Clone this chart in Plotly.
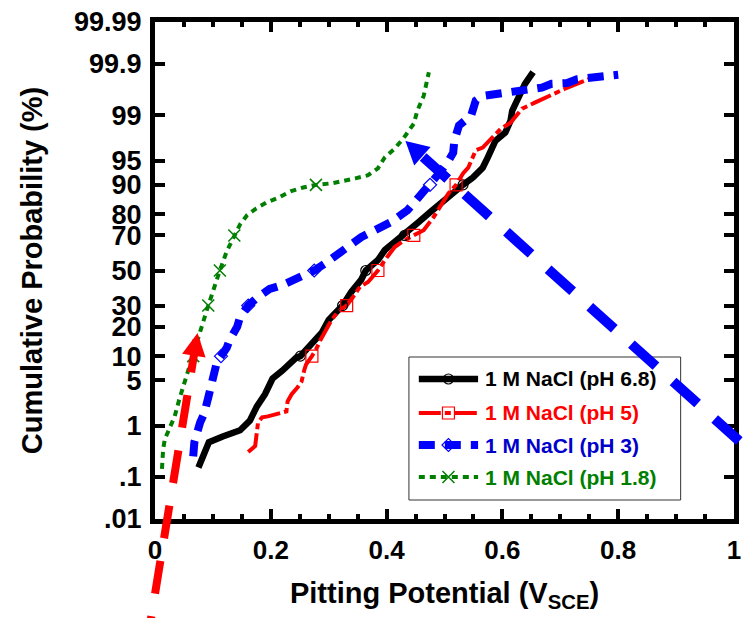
import math
from statistics import NormalDist
import plotly.graph_objects as go

# ---------------- data ----------------
# Pitting potential (V_SCE) and cumulative probability (%)
ph68_x = [0.075, 0.093, 0.117, 0.147, 0.164, 0.176, 0.190, 0.203, 0.220, 0.244, 0.251, 0.269, 0.288, 0.300, 0.324,
          0.339, 0.356, 0.364, 0.385, 0.397, 0.414, 0.431, 0.453, 0.475, 0.498, 0.520, 0.532, 0.549, 0.566, 0.575,
          0.588, 0.605, 0.614, 0.617, 0.627, 0.639, 0.653]
ph68_p = [0.16, 0.51, 0.65, 0.84, 1.24, 2.1, 3.2, 5.3, 6.7, 9.6, 10, 13.3, 17.6, 23, 30,
          37.4, 44.4, 50, 56.2, 62, 66.5, 70, 76, 80.8, 85.3, 88.5, 90, 91.8, 93.8, 95.5,
          97.4, 98.05, 98.75, 99.16, 99.51, 99.74, 99.85]

ph5_x = [0.161, 0.173, 0.178, 0.185, 0.195, 0.219, 0.227, 0.229, 0.236, 0.246, 0.253, 0.258, 0.261, 0.271, 0.278,
         0.286, 0.295, 0.305, 0.317, 0.331, 0.342, 0.354, 0.368, 0.385, 0.397, 0.414, 0.431, 0.447, 0.464, 0.481,
         0.492, 0.500, 0.507, 0.520, 0.532, 0.541, 0.549, 0.554, 0.566, 0.583, 0.597, 0.614, 0.625, 0.634, 0.656,
         0.678, 0.707, 0.736, 0.753]
ph5_p = [0.33, 0.43, 1.15, 1.4, 1.45, 1.68, 1.75, 2.5, 3.2, 4.0, 4.8, 6.9, 8.0, 10, 11.8,
         15, 18.8, 23, 27.3, 30, 34.6, 40.3, 43.2, 50, 56.2, 63.7, 67.5, 70, 72.7, 78.7,
         82.8, 85.3, 87.6, 90, 92.7, 93.8, 95.5, 96.4, 96.7, 97.7, 98.3, 98.65, 98.98, 99.23, 99.4,
         99.54, 99.67, 99.76, 99.80]

ph3_x = [0.066, 0.068, 0.078, 0.085, 0.092, 0.097, 0.102, 0.107, 0.114, 0.124, 0.129, 0.142, 0.147, 0.161, 0.176,
         0.198, 0.220, 0.244, 0.254, 0.275, 0.295, 0.317, 0.334, 0.356, 0.380, 0.407, 0.436, 0.453, 0.464, 0.475,
         0.492, 0.507, 0.515, 0.517, 0.525, 0.546, 0.554, 0.566, 0.588, 0.610, 0.642, 0.668, 0.685, 0.712, 0.729,
         0.754, 0.775, 0.800]
ph3_p = [0.27, 0.51, 1.15, 1.62, 2.87, 4.0, 6.5, 8.6, 10, 12.4, 15, 20, 24.4, 30, 34.1,
         39.1, 41.4, 44.9, 46.7, 50, 54.5, 59.7, 63.7, 69.1, 72.7, 76.5, 81.6, 85.7, 88.5, 90,
         92.9, 95.0, 96.1, 97.4, 98.5, 98.98, 99.45, 99.55, 99.59, 99.61, 99.67, 99.69, 99.74, 99.75, 99.79,
         99.80, 99.82, 99.83]

ph18_x = [0.012, 0.014, 0.017, 0.024, 0.034, 0.042, 0.049, 0.066, 0.078, 0.092, 0.102, 0.112, 0.124, 0.137, 0.147,
          0.159, 0.175, 0.193, 0.214, 0.234, 0.256, 0.278, 0.305, 0.346, 0.368, 0.385, 0.397, 0.414, 0.429, 0.447,
          0.453, 0.464, 0.473]
ph18_p = [0.15, 0.37, 0.58, 0.87, 1.45, 2.7, 4.1, 10, 18, 30, 40, 50, 61.4, 70, 75.5,
          79.6, 82.4, 84.6, 86.3, 88.2, 89.3, 90, 90.4, 91.6, 92.3, 93.7, 95.5, 96.6, 97.6, 98.6,
          99.16, 99.55, 99.85]

# probability levels that carry a symbol
mark_68 = [10, 30, 50, 70, 90]
mark_5 = [10, 30, 50, 70, 90]
mark_3 = [10, 30, 50, 90]
mark_18 = [10, 30, 50, 70, 90]

series_names = ["1 M NaCl (pH 6.8)", "1 M NaCl (pH 5)", "1 M NaCl (pH 3)", "1 M NaCl (pH 1.8)"]

y_tick_p = [99.99, 99.9, 99, 95, 90, 80, 70, 50, 30, 20, 10, 5, 1, 0.1, 0.01]
y_tick_labels = ["99.99", "99.9", "99", "95", "90", "80", "70", "50", "30", "20", "10", "5", "1", ".1", ".01"]

# ---------------- helpers ----------------
ND = NormalDist()


def probit(p):
    return ND.inv_cdf(p / 100.0)


FONT = "Liberation Sans, Arial, Helvetica, sans-serif"
ML, MR, MT, MB = 155, 3, 22, 99
FW, FH = 744, 618
W = FW - ML - MR
H = FH - MT - MB
Z0, Z1 = probit(0.01), probit(99.99)

styles = [
    dict(color="#000000", width=6.5, dash="solid", symbol="circle-open", msize=10, mlw=1.2, text="#000000"),
    dict(color="#FF0000", width=4, dash="22px,4px,6px,4px", symbol="square-open", msize=12, mlw=1.2, text="#FF0000"),
    dict(color="#0000FF", width=8, dash="16px,10px", symbol="diamond-open", msize=10, mlw=1.2, text="#0000CC"),
    dict(color="#007F00", width=4, dash="6px,5px", symbol="x-thin-open", msize=12, mlw=1.5, text="#007F00"),
]
data = [(ph68_x, ph68_p, mark_68), (ph5_x, ph5_p, mark_5), (ph3_x, ph3_p, mark_3), (ph18_x, ph18_p, mark_18)]

fig = go.Figure()
for (xs, ps, marks), st, name in zip(data, styles, series_names):
    fig.add_trace(go.Scatter(x=xs, y=[probit(p) for p in ps], mode="lines", name=name,
                             line=dict(color=st["color"], width=st["width"], dash=st["dash"]),
                             showlegend=False, hoverinfo="skip"))
for (xs, ps, marks), st, name in zip(data, styles, series_names):
    mx = [x for x, p in zip(xs, ps) if p in marks]
    my = [probit(p) for p in ps if p in marks]
    fig.add_trace(go.Scatter(x=mx, y=my, mode="markers", showlegend=False, hoverinfo="skip",
                             marker=dict(symbol=st["symbol"], size=st["msize"], color=st["color"],
                                         line=dict(color=st["color"], width=st["mlw"]))))

# ---------------- custom legend ----------------
leg_box = dict(x0=412, x1=687, y0=357, y1=500)      # pixel box in the figure
leg_rows = [379, 413, 445, 477]                     # pixel row centres
leg_line = (422, 482)
leg_text_x = 487


def px_to_x(px):
    return (px - ML) / W


def py_to_paper(py):
    return (FH - MB - py) / H


def py_to_z(py):
    return Z0 + py_to_paper(py) * (Z1 - Z0)


shapes = [dict(type="rect", xref="paper", yref="paper",
               x0=px_to_x(leg_box["x0"]), x1=px_to_x(leg_box["x1"]),
               y0=py_to_paper(leg_box["y1"]), y1=py_to_paper(leg_box["y0"]),
               line=dict(color="#333333", width=1), fillcolor="rgba(0,0,0,0)", layer="above")]
annotations = []
for row, st, name in zip(leg_rows, styles, series_names):
    z = py_to_z(row)
    fig.add_trace(go.Scatter(x=[px_to_x(leg_line[0]), px_to_x(leg_line[1])], y=[z, z], mode="lines",
                             line=dict(color=st["color"], width=st["width"], dash=st["dash"]),
                             showlegend=False, hoverinfo="skip"))
    fig.add_trace(go.Scatter(x=[px_to_x((leg_line[0] + leg_line[1]) / 2)], y=[z], mode="markers",
                             showlegend=False, hoverinfo="skip",
                             marker=dict(symbol=st["symbol"], size=st["msize"], color=st["color"],
                                         line=dict(color=st["color"], width=st["mlw"]))))
    annotations.append(dict(xref="paper", yref="paper", x=px_to_x(leg_text_x), y=py_to_paper(row),
                            xanchor="left", yanchor="middle", showarrow=False, text=name,
                            font=dict(family=FONT, size=21, color=st["text"], weight="bold")))

# ---------------- arrows (tip / tail in axis units: V, probit) ----------------
arrows = [
    dict(tip=(0.0735, -0.935), tail=(-0.013, -5.53), color="#FF0000", width=8, head_len=23, head_half=12, start=7),
    dict(tip=(0.4325, 1.938), tail=(1.034, -2.746), color="#0000FF", width=10, head_len=23, head_half=12.5, start=24),
]
for a in arrows:
    tx, ty = a["tip"][0] * W, (a["tip"][1] - Z0) / (Z1 - Z0) * H
    sx, sy = a["tail"][0] * W, (a["tail"][1] - Z0) / (Z1 - Z0) * H
    dx, dy = sx - tx, sy - ty
    L = math.hypot(dx, dy)
    ux, uy = dx / L, dy / L
    bx, by = tx + ux * a["head_len"], ty + uy * a["head_len"]
    nx, ny = -uy, ux
    c1 = (bx + nx * a["head_half"], by + ny * a["head_half"])
    c2 = (bx - nx * a["head_half"], by - ny * a["head_half"])
    st0 = (tx + ux * a["start"], ty + uy * a["start"])
    shapes.append(dict(type="line", xref="paper", yref="paper",
                       x0=st0[0] / W, y0=st0[1] / H, x1=sx / W, y1=sy / H,
                       line=dict(color=a["color"], width=a["width"], dash="33px,23px"), layer="above"))
    path = "M {:.5f},{:.5f} L {:.5f},{:.5f} L {:.5f},{:.5f} Z".format(
        tx / W, ty / H, c1[0] / W, c1[1] / H, c2[0] / W, c2[1] / H)
    shapes.append(dict(type="path", xref="paper", yref="paper", path=path,
                       fillcolor=a["color"], line=dict(width=0), layer="above"))

# ---------------- axes / layout ----------------
fig.update_xaxes(range=[0, 1], dtick=0.2, tick0=0, showgrid=False, zeroline=False,
                 showline=True, linewidth=5, linecolor="black", mirror="allticks",
                 ticks="inside", ticklen=10, tickwidth=4, tickcolor="black",
                 minor=dict(dtick=0.05, ticks="inside", ticklen=5, tickwidth=4, tickcolor="black", showgrid=False),
                 tickfont=dict(family=FONT, size=26, color="black", weight="bold"),
                 ticklabelstandoff=4,
                 title=dict(text="Pitting Potential (V<sub>SCE</sub>)", standoff=20,
                            font=dict(family=FONT, size=29, color="black", weight="bold")))
fig.update_yaxes(range=[Z0, Z1], tickmode="array", tickvals=[probit(p) for p in y_tick_p], ticktext=y_tick_labels,
                 showgrid=False, zeroline=False, showline=True, linewidth=5, linecolor="black", mirror="allticks",
                 ticks="inside", ticklen=10, tickwidth=4, tickcolor="black",
                 tickfont=dict(family=FONT, size=27, color="black", weight="bold"),
                 ticklabelstandoff=3,
                 title=dict(text="Cumulative Probability (%)", standoff=24,
                            font=dict(family=FONT, size=29, color="black", weight="bold")))
fig.update_layout(width=FW, height=FH, margin=dict(l=ML, r=MR, t=MT, b=MB, pad=0),
                  paper_bgcolor="white", plot_bgcolor="white", showlegend=False,
                  font=dict(family=FONT, size=25, color="black"),
                  shapes=shapes, annotations=annotations)

fig.write_html("out.html", config={"displayModeBar": False},
               post_script="document.body.style.margin='0px';")
